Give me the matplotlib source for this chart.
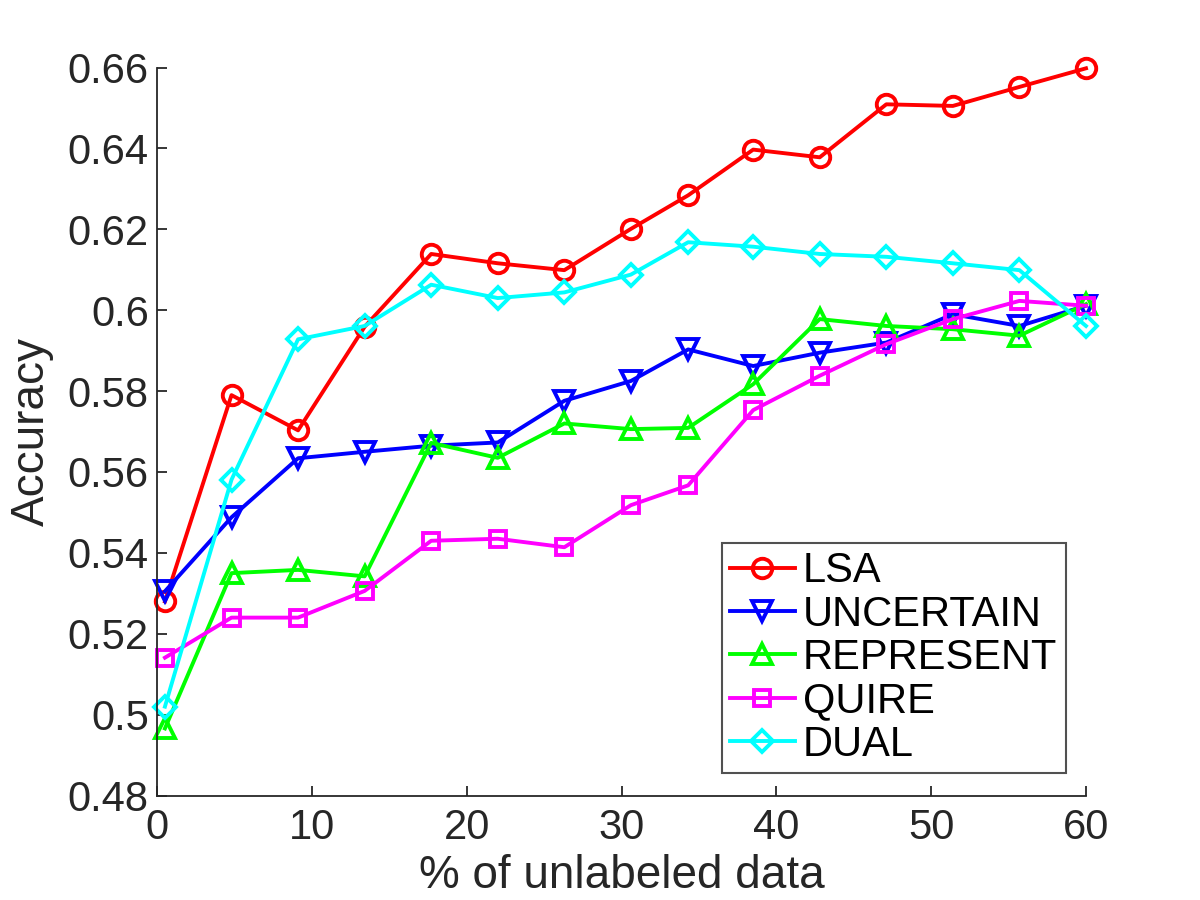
import matplotlib
matplotlib.use('Agg')
import matplotlib.pyplot as plt

plt.rcParams['font.family'] = ['Liberation Sans', 'DejaVu Sans']

# percentage of unlabeled data used
pct = [0.5, 4.8, 9.1, 13.4, 17.7, 22.0, 26.3, 30.6, 34.3, 38.5, 42.8, 47.1, 51.4, 55.7, 60.0]

lsa = [0.528, 0.579, 0.5703, 0.5959, 0.6139, 0.6116, 0.6099, 0.6201, 0.6284, 0.6397,
       0.6378, 0.6509, 0.6505, 0.6552, 0.6598]
uncertain = [0.5305, 0.5488, 0.5634, 0.5650, 0.5665, 0.5673, 0.5776, 0.5825, 0.5903, 0.5862,
             0.5895, 0.5920, 0.5990, 0.5961, 0.6011]
represent = [0.4966, 0.5350, 0.5358, 0.5342, 0.5672, 0.5635, 0.5720, 0.5706, 0.5709, 0.5817,
             0.5978, 0.5961, 0.5953, 0.5937, 0.6015]
quire = [0.5141, 0.5240, 0.5240, 0.5306, 0.5430, 0.5435, 0.5414, 0.5518, 0.5567, 0.5753,
         0.5838, 0.5916, 0.5978, 0.6023, 0.6011]
dual = [0.5020, 0.5581, 0.5928, 0.5961, 0.6063, 0.6030, 0.6044, 0.6088, 0.6168, 0.6157,
        0.6139, 0.6132, 0.6116, 0.6099, 0.5961]

series = [
    ('LSA', lsa, 'o', '#ff0000'),
    ('UNCERTAIN', uncertain, 'v', '#0000ff'),
    ('REPRESENT', represent, '^', '#00ff00'),
    ('QUIRE', quire, 's', '#ff00ff'),
    ('DUAL', dual, 'D', '#00ffff'),
]
msizes = {'o': 14, 'v': 14, '^': 14, 's': 12, 'D': 11}

fig = plt.figure(figsize=(12, 9), dpi=100)
ax = fig.add_axes([0.131, 0.116, 0.774, 0.809])

for name, vals, mk, col in series:
    ax.plot(pct, vals, color=col, marker=mk, markersize=msizes[mk],
            markerfacecolor='none', markeredgewidth=2.8, linewidth=2.8,
            label=name, clip_on=False)

ax.set_xlim(0, 60)
ax.set_ylim(0.48, 0.66)
ax.set_xticks([0, 10, 20, 30, 40, 50, 60])
ax.set_yticks([0.48, 0.50, 0.52, 0.54, 0.56, 0.58, 0.60, 0.62, 0.64, 0.66])
ax.set_yticklabels(['0.48', '0.5', '0.52', '0.54', '0.56', '0.58', '0.6', '0.62', '0.64', '0.66'])

gray = '#262626'
for s in ['top', 'right']:
    ax.spines[s].set_visible(False)
for s in ['left', 'bottom']:
    ax.spines[s].set_color(gray)
    ax.spines[s].set_linewidth(1.3)
ax.tick_params(direction='in', length=7, width=1.3, colors=gray, labelsize=30, pad=6)
ax.tick_params(axis='x', pad=9)

ax.set_xlabel('% of unlabeled data', fontsize=33, color=gray, labelpad=4)
ax.set_ylabel('Accuracy', fontsize=33, color=gray, labelpad=10)

leg = ax.legend(loc='lower right', bbox_to_anchor=(0.978, 0.031), borderaxespad=0,
                fontsize=30, frameon=True, fancybox=False, handlelength=1.55,
                handletextpad=0.2, labelspacing=0.08, borderpad=0.2)
leg.get_frame().set_edgecolor(gray)
leg.get_frame().set_linewidth(1.5)

fig.savefig('out.png', dpi=100, facecolor='white')
